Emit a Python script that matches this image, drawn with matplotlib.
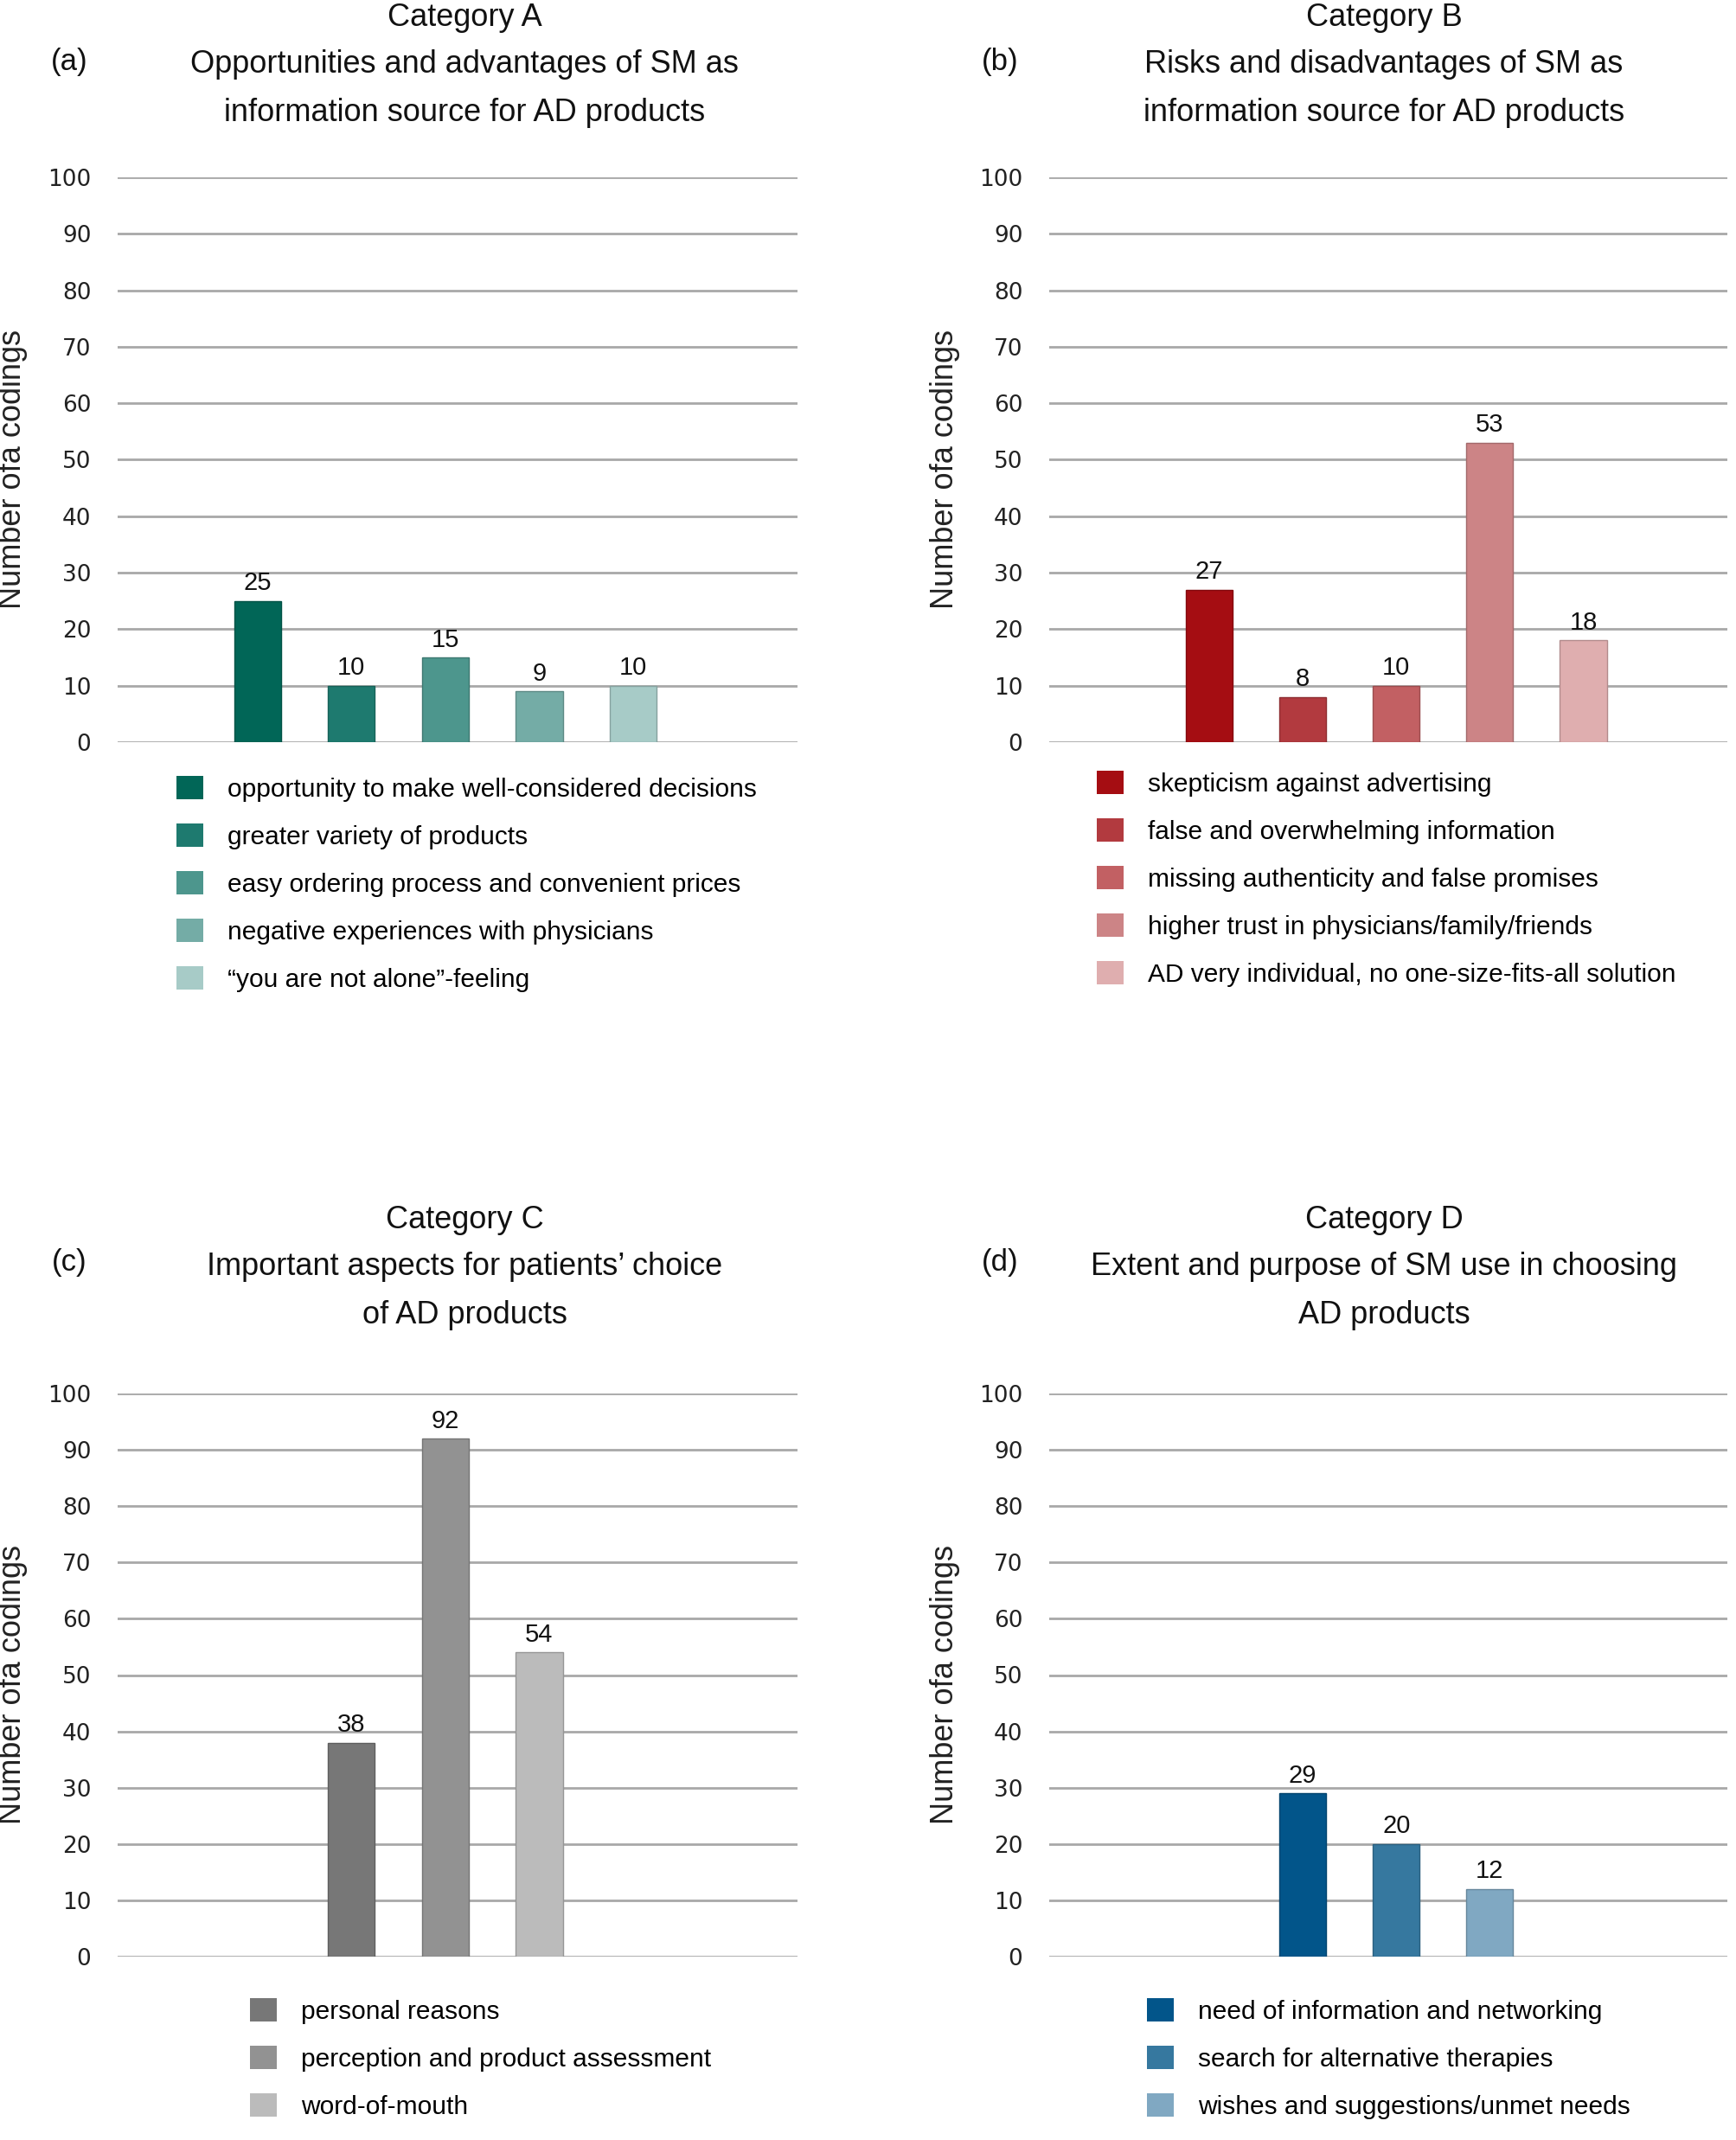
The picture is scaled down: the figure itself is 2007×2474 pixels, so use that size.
import matplotlib
matplotlib.use("Agg")
import matplotlib.pyplot as plt
from matplotlib.patches import Patch

W, H = 2008, 2474

# values
labels_a = ["opportunity to make well-considered decisions",
            "greater variety of products",
            "easy ordering process and convenient prices",
            "negative experiences with physicians",
            "\u201cyou are not alone\u201d-feeling"]
values_a = [25, 10, 15, 9, 10]
colors_a = ["#016657", "#1e7a6f", "#4d968d", "#74aca6", "#a7cbc7"]

labels_b = ["skepticism against advertising",
            "false and overwhelming information",
            "missing authenticity and false promises",
            "higher trust in physicians/family/friends",
            "AD very individual, no one-size-fits-all solution"]
values_b = [27, 8, 10, 53, 18]
colors_b = ["#a50d12", "#b23a3f", "#c26063", "#cc8486", "#dfaeaf"]

labels_c = ["personal reasons",
            "perception and product assessment",
            "word-of-mouth"]
values_c = [38, 92, 54]
colors_c = ["#777777", "#929292", "#bbbbbb"]

labels_d = ["need of information and networking",
            "search for alternative therapies",
            "wishes and suggestions/unmet needs"]
values_d = [29, 20, 12]
colors_d = ["#02558a", "#36789f", "#80a8c2"]

titles = [["Category A", "Opportunities and advantages of SM as",
           "information source for AD products"],
          ["Category B", "Risks and disadvantages of SM as",
           "information source for AD products"],
          ["Category C", "Important aspects for patients\u2019 choice",
           "of AD products"],
          ["Category D", "Extent and purpose of SM use in choosing",
           "AD products"]]
tags = ["(a)", "(b)", "(c)", "(d)"]
yticks = list(range(0, 101, 10))

TXT = "Liberation Sans"
NUM = "DejaVu Sans"


def darker(c, f=0.8):
    r, g, b = matplotlib.colors.to_rgb(c)
    return (r * f, g * f, b * f)


def px_axes(fig, left, right, top, bottom):
    return fig.add_axes([left / W, 1 - bottom / H, (right - left) / W,
                         (bottom - top) / H])


def panel(ax, values, colors, xlim):
    x = list(range(len(values)))
    ax.bar(x, values, width=0.5, color=colors,
           edgecolor=[darker(c) for c in colors], linewidth=1.0, zorder=3)
    for xi, v in zip(x, values):
        ax.text(xi, v + 1.0, str(v), ha="center", va="bottom",
                fontsize=21, family=TXT, color="#111111")
    ax.set_ylim(0, 100)
    ax.set_xlim(*xlim)
    ax.set_yticks(yticks)
    ax.set_xticks([])
    ax.grid(axis="y", color="#a8a8a8", linewidth=2, zorder=0)
    for s in ax.spines.values():
        s.set_visible(False)
    ax.tick_params(axis="y", length=0, pad=22, labelsize=19)
    for t in ax.get_yticklabels():
        t.set_family(NUM)
        t.set_color("#222222")
    ax.set_ylabel("Number ofa codings", fontsize=26, family=TXT,
                  color="#222222")
    ax.yaxis.set_label_coords(-0.132, 0.483)


def legend(fig, ax, labels, colors, x, y):
    handles = [Patch(facecolor=c, edgecolor="none") for c in colors]
    ax.legend(handles, labels, loc="upper left",
              bbox_to_anchor=(x / W, 1 - y / H),
              bbox_transform=fig.transFigure, frameon=False,
              prop={"family": TXT, "size": 21.5}, handlelength=1.03,
              handleheight=1.03, handletextpad=0.95, labelspacing=0.84,
              borderpad=0, borderaxespad=0)


fig = plt.figure(figsize=(W / 100, H / 100), dpi=100)

ax_a = px_axes(fig, 136, 922, 205, 858)
ax_b = px_axes(fig, 1213, 1997, 205, 858)
ax_c = px_axes(fig, 136, 922, 1611, 2262)
ax_d = px_axes(fig, 1213, 1997, 1611, 2262)

panel(ax_a, values_a, colors_a, (-1.49, 5.75))
panel(ax_b, values_b, colors_b, (-1.71, 5.54))
panel(ax_c, values_c, colors_c, (-2.49, 4.75))
panel(ax_d, values_d, colors_d, (-2.71, 4.54))

legend(fig, ax_a, labels_a, colors_a, 204, 897)
legend(fig, ax_b, labels_b, colors_b, 1268, 891)
legend(fig, ax_c, labels_c, colors_c, 289, 2310)
legend(fig, ax_d, labels_d, colors_d, 1326, 2310)

# panel headings
centers = [(537, 20), (1600, 20), (537, 1410), (1600, 1410)]
tag_pos = [(80, 72), (1156, 72), (80, 1459), (1156, 1459)]
for (cx, cy), lines, tag, (tx, ty) in zip(centers, titles, tags, tag_pos):
    for i, line in enumerate(lines):
        fig.text(cx / W, 1 - (cy + 55 * i) / H, line, ha="center",
                 va="center", fontsize=26, family=TXT, color="#111111")
    fig.text(tx / W, 1 - ty / H, tag, ha="center", va="center",
             fontsize=25, family=TXT, color="#111111")

fig.savefig("out.png", dpi=100)
